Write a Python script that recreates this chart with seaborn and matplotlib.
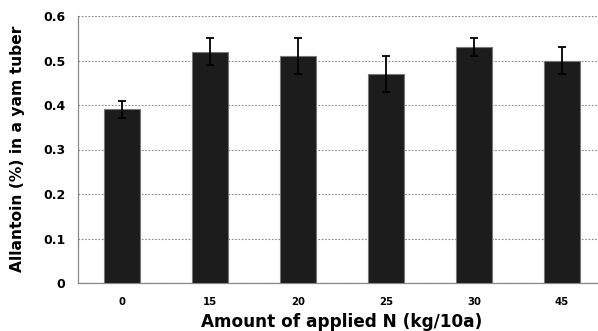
import numpy as np
import pandas as pd
import matplotlib
matplotlib.use('Agg')
import matplotlib.pyplot as plt
import seaborn as sns

# data
n_rates = ['0', '15', '20', '25', '30', '45']
allantoin = [0.39, 0.52, 0.51, 0.47, 0.53, 0.50]
err = [0.02, 0.03, 0.04, 0.04, 0.02, 0.03]
y_ticks = [0, 0.1, 0.2, 0.3, 0.4, 0.5, 0.6]
y_tick_labels = ['0', '0.1', '0.2', '0.3', '0.4', '0.5', '0.6']

df = pd.DataFrame({'N': n_rates, 'allantoin': allantoin})

sns.set_style('white')
plt.rcParams['font.family'] = ['DejaVu Sans']
plt.rcParams['text.color'] = 'black'
plt.rcParams['xtick.color'] = 'black'
plt.rcParams['ytick.color'] = 'black'

fig = plt.figure(figsize=(5.98, 3.31), dpi=100)
# axes runs slightly past the right edge like the cropped original
ax = fig.add_axes([78 / 598, 1 - 283 / 331, 528 / 598, 267 / 331])

sns.barplot(data=df, x='N', y='allantoin', color='#1c1c1c', width=0.4,
            edgecolor='#777777', linewidth=0.8, saturation=1, ax=ax, zorder=3)
ax.errorbar(np.arange(len(n_rates)), allantoin, yerr=err, fmt='none',
            ecolor='black', elinewidth=1.3, capsize=2.7, capthick=1.3, zorder=4)

ax.set_ylim(0, 0.6)
ax.set_xlim(-0.5, len(n_rates) - 0.5)
ax.set_yticks(y_ticks)
ax.set_yticklabels(y_tick_labels, fontsize=9, fontweight='bold')
for lab in ax.get_xticklabels():
    lab.set_fontsize(7.3)
    lab.set_fontweight('bold')
ax.tick_params(axis='x', which='major', length=0, pad=10)
ax.tick_params(axis='y', length=0, pad=9)
ax.set_xticks(np.arange(len(n_rates) - 1) + 0.5, minor=True)
ax.tick_params(axis='x', which='minor', direction='in', length=4,
               color='#888888', width=0.8)

ax.yaxis.grid(True, linestyle=(0, (1.5, 1.5)), color='#888888', linewidth=0.8)
ax.set_axisbelow(True)
for s in ['top', 'right']:
    ax.spines[s].set_visible(False)
for s in ['left', 'bottom']:
    ax.spines[s].set_color('#888888')
    ax.spines[s].set_linewidth(0.9)

ax.set_xlabel('')
ax.set_ylabel('')
fig.text(18 / 598, 1 - 149 / 331, 'Allantoin (%) in a yam tuber', rotation=90,
         ha='center', va='center', fontsize=11.2, fontweight='bold')
fig.text(342 / 598, 1 - 322 / 331, 'Amount of applied N (kg/10a)',
         ha='center', va='center', fontsize=12.2, fontweight='bold')

fig.savefig('out.png', dpi=100)
